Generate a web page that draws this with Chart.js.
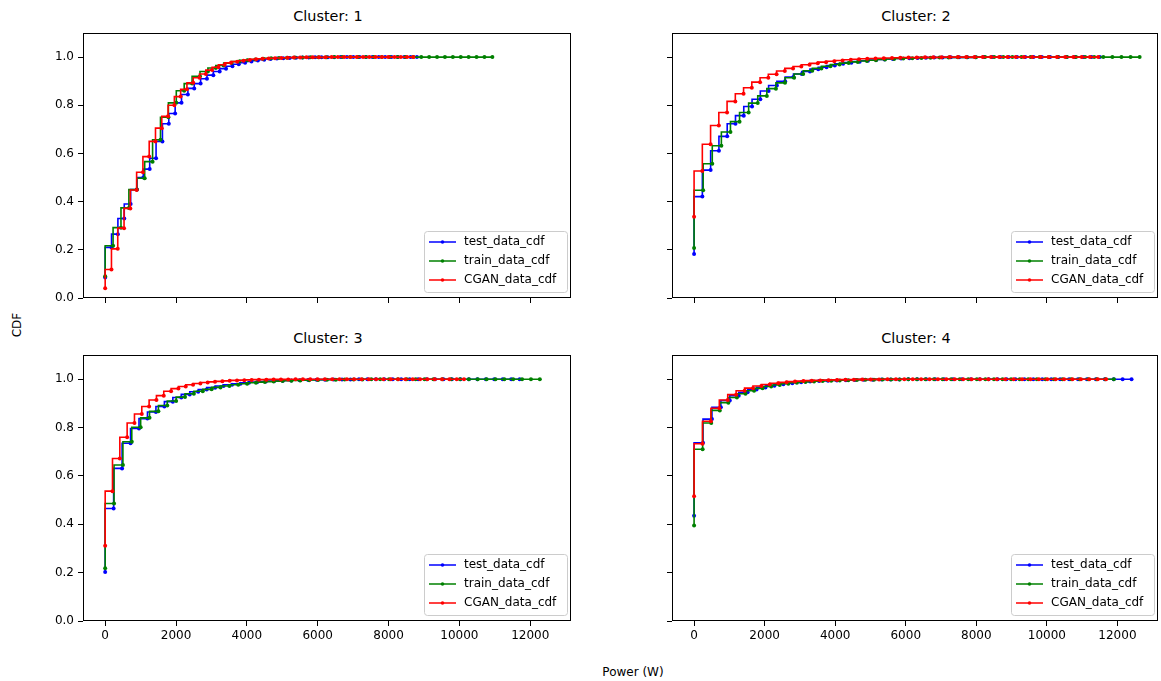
<!DOCTYPE html>
<html>
<head>
<meta charset="utf-8">
<script src="https://cdn.jsdelivr.net/npm/chart.js@4.4.0/dist/chart.umd.min.js"></script>
<style>
  body { margin: 0; background: #fff; width: 1161px; height: 681px; position: relative; overflow: hidden; font-family: "DejaVu Sans", sans-serif; color: #000; }
  canvas { position: absolute; }
  .title { position: absolute; font-size: 14.4px; height: 18px; line-height: 18px; text-align: center; white-space: nowrap; }
  .axlabel { position: absolute; font-size: 12px; white-space: nowrap; }
</style>
</head>
<body>
<div id="wrap"></div>
<div class="axlabel" id="ylab" style="left:0px; top:318px; width:34px; text-align:center; transform:rotate(-90deg);">CDF</div>
<div class="axlabel" style="left:583px; top:665px; width:100px; text-align:center;">Power (W)</div>
<script>
// series names and colours
const seriesLabels = ['test_data_cdf', 'train_data_cdf', 'CGAN_data_cdf'];
const seriesColors = ['#0000ff', '#008000', '#ff0000'];
const clusterNames = ['1', '2', '3', '4'];
const xTicks = [0, 2000, 4000, 6000, 8000, 10000, 12000];
const yTicks = [0, 0.2, 0.4, 0.6, 0.8, 1.0];

// last bin edge (W) of each series: test, train, CGAN
const c1Max = [8800, 10930, 8700];
const c2Max = [11500, 12630, 11455];
const c3Max = [11700, 12270, 10130];
const c4Max = [12400, 11900, 11680];

// Cluster 1
const c1Test = [0.085, 0.21, 0.265, 0.33, 0.39, 0.45, 0.5, 0.535, 0.58, 0.65,
  0.723, 0.766, 0.81, 0.845, 0.87, 0.89, 0.91, 0.925, 0.94, 0.952,
  0.962, 0.97, 0.977, 0.982, 0.986, 0.989, 0.992, 0.994, 0.995, 0.996,
  0.997, 0.998, 0.998, 0.999, 0.999, 0.999, 0.999, 1, 1, 1,
  1, 1, 1, 1, 1, 1, 1, 1, 1, 1];
const c1Train = [0.09, 0.217, 0.292, 0.374, 0.45, 0.497, 0.566, 0.657, 0.75, 0.81,
  0.86, 0.89, 0.92, 0.94, 0.955, 0.965, 0.975, 0.982, 0.987, 0.99,
  0.993, 0.995, 0.996, 0.997, 0.998, 0.998, 0.999, 0.999, 0.999, 1,
  1, 1, 1, 1, 1, 1, 1, 1, 1, 1,
  1, 1, 1, 1, 1, 1, 1, 1, 1, 1];
const c1Cgan = [0.04, 0.118, 0.204, 0.29, 0.372, 0.448, 0.522, 0.587, 0.65, 0.705,
  0.754, 0.8, 0.836, 0.866, 0.893, 0.914, 0.93, 0.946, 0.958, 0.968,
  0.976, 0.981, 0.985, 0.988, 0.991, 0.993, 0.994, 0.995, 0.996, 0.997,
  0.998, 0.998, 0.999, 0.999, 0.999, 0.999, 1, 1, 1, 1,
  1, 1, 1, 1, 1, 1, 1, 1, 1, 1];

// Cluster 2
const c2Test = [0.183, 0.421, 0.531, 0.611, 0.671, 0.723, 0.757, 0.795, 0.825, 0.859,
  0.882, 0.9, 0.917, 0.93, 0.94, 0.95, 0.958, 0.965, 0.972, 0.977,
  0.981, 0.985, 0.988, 0.99, 0.992, 0.994, 0.995, 0.996, 0.997, 0.998,
  0.998, 0.999, 0.999, 0.999, 0.999, 1, 1, 1, 1, 1,
  1, 1, 1, 1, 1, 1, 1, 1, 1, 1];
const c2Train = [0.208, 0.447, 0.557, 0.632, 0.689, 0.732, 0.77, 0.809, 0.839, 0.869,
  0.893, 0.914, 0.93, 0.943, 0.953, 0.962, 0.969, 0.975, 0.98, 0.984,
  0.987, 0.99, 0.992, 0.994, 0.995, 0.996, 0.997, 0.998, 0.998, 0.999,
  0.999, 0.999, 1, 1, 1, 1, 1, 1, 1, 1,
  1, 1, 1, 1, 1, 1, 1, 1, 1, 1];
const c2Cgan = [0.337, 0.527, 0.638, 0.716, 0.77, 0.816, 0.848, 0.873, 0.896, 0.914,
  0.929, 0.942, 0.953, 0.961, 0.968, 0.974, 0.979, 0.983, 0.986, 0.989,
  0.991, 0.993, 0.994, 0.995, 0.996, 0.997, 0.998, 0.998, 0.999, 0.999,
  0.999, 1, 1, 1, 1, 1, 1, 1, 1, 1,
  1, 1, 1, 1, 1, 1, 1, 1, 1, 1];

// Cluster 3
const c3Test = [0.203, 0.465, 0.631, 0.735, 0.796, 0.837, 0.864, 0.887, 0.907, 0.924,
  0.937, 0.948, 0.957, 0.965, 0.972, 0.977, 0.981, 0.985, 0.988, 0.99,
  0.992, 0.994, 0.995, 0.996, 0.997, 0.998, 0.998, 0.999, 0.999, 0.999,
  1, 1, 1, 1, 1, 1, 1, 1, 1, 1,
  1, 1, 1, 1, 1, 1, 1, 1, 1, 1];
const c3Train = [0.218, 0.486, 0.645, 0.741, 0.801, 0.84, 0.867, 0.891, 0.91, 0.926,
  0.94, 0.95, 0.958, 0.966, 0.972, 0.977, 0.981, 0.985, 0.988, 0.99,
  0.992, 0.994, 0.995, 0.996, 0.997, 0.998, 0.998, 0.999, 0.999, 0.999,
  1, 1, 1, 1, 1, 1, 1, 1, 1, 1,
  1, 1, 1, 1, 1, 1, 1, 1, 1, 1];
const c3Cgan = [0.311, 0.537, 0.672, 0.76, 0.819, 0.856, 0.887, 0.914, 0.932, 0.95,
  0.961, 0.97, 0.977, 0.982, 0.986, 0.989, 0.991, 0.993, 0.995, 0.996,
  0.997, 0.998, 0.998, 0.999, 0.999, 0.999, 1, 1, 1, 1,
  1, 1, 1, 1, 1, 1, 1, 1, 1, 1,
  1, 1, 1, 1, 1, 1, 1, 1, 1, 1];

// Cluster 4
const c4Test = [0.435, 0.737, 0.835, 0.884, 0.912, 0.932, 0.946, 0.957, 0.966, 0.973,
  0.979, 0.983, 0.987, 0.99, 0.992, 0.994, 0.995, 0.996, 0.997, 0.998,
  0.998, 0.999, 0.999, 0.999, 1, 1, 1, 1, 1, 1,
  1, 1, 1, 1, 1, 1, 1, 1, 1, 1,
  1, 1, 1, 1, 1, 1, 1, 1, 1, 1];
const c4Train = [0.395, 0.71, 0.819, 0.871, 0.903, 0.924, 0.94, 0.952, 0.962, 0.97,
  0.976, 0.981, 0.985, 0.988, 0.99, 0.992, 0.994, 0.995, 0.996, 0.997,
  0.998, 0.998, 0.999, 0.999, 0.999, 1, 1, 1, 1, 1,
  1, 1, 1, 1, 1, 1, 1, 1, 1, 1,
  1, 1, 1, 1, 1, 1, 1, 1, 1, 1];
const c4Cgan = [0.516, 0.733, 0.826, 0.88, 0.914, 0.936, 0.952, 0.963, 0.972, 0.978,
  0.983, 0.987, 0.99, 0.992, 0.994, 0.995, 0.996, 0.997, 0.998, 0.998,
  0.999, 0.999, 0.999, 1, 1, 1, 1, 1, 1, 1,
  1, 1, 1, 1, 1, 1, 1, 1, 1, 1,
  1, 1, 1, 1, 1, 1, 1, 1, 1, 1];

const clusterSeries = [
  [c1Test, c1Train, c1Cgan],
  [c2Test, c2Train, c2Cgan],
  [c3Test, c3Train, c3Cgan],
  [c4Test, c4Train, c4Cgan]
];
const clusterMax = [c1Max, c2Max, c3Max, c4Max];

// plot area boxes (px)
const panels = [
  { left: 83, top: 30, w: 490, h: 268, xLabels: false },
  { left: 672, top: 30, w: 488, h: 268, xLabels: false },
  { left: 83, top: 352, w: 490, h: 269, xLabels: true },
  { left: 672, top: 352, w: 488, h: 269, xLabels: true }
];
const Y_W = 50, X_H = 28;
const FONT = '"DejaVu Sans", sans-serif';

// cdf is evaluated on evenly spaced bin edges from 0 to the series max
function toPoints(vals, maxW) {
  const step = maxW / (vals.length - 1);
  return vals.map((v, i) => ({ x: i * step, y: v }));
}

const framePlugin = {
  id: 'frame',
  afterDatasetsDraw(chart) {
    const a = chart.chartArea, ctx = chart.ctx;
    ctx.save();
    ctx.strokeStyle = '#000';
    ctx.lineWidth = 1;
    ctx.strokeRect(Math.round(a.left) + 0.5, Math.round(a.top) + 0.5,
      Math.round(a.right - a.left) - 1, Math.round(a.bottom - a.top) - 1);
    ctx.restore();
  },
  afterDraw(chart) {
    // matplotlib-like legend, lower right inside the axes
    const a = chart.chartArea, ctx = chart.ctx;
    const w = 143, h = 61;
    const x0 = Math.round(a.right) - 4 - w, y0 = Math.round(a.bottom) - 6 - h;
    ctx.save();
    ctx.beginPath();
    ctx.roundRect(x0 + 0.5, y0 + 0.5, w, h, 3);
    ctx.fillStyle = 'rgba(255,255,255,0.8)';
    ctx.fill();
    ctx.strokeStyle = '#cccccc';
    ctx.lineWidth = 1;
    ctx.stroke();
    ctx.font = '12px ' + FONT;
    ctx.textBaseline = 'middle';
    seriesLabels.forEach((lab, i) => {
      const yy = y0 + 11 + i * 19;
      ctx.strokeStyle = seriesColors[i];
      ctx.lineWidth = 1.5;
      ctx.beginPath();
      ctx.moveTo(x0 + 5, yy);
      ctx.lineTo(x0 + 32, yy);
      ctx.stroke();
      ctx.fillStyle = seriesColors[i];
      ctx.beginPath();
      ctx.arc(x0 + 18.5, yy, 1.8, 0, Math.PI * 2);
      ctx.fill();
      ctx.fillStyle = '#000';
      ctx.fillText(lab, x0 + 40, yy);
    });
    ctx.restore();
  }
};

const wrap = document.getElementById('wrap');
panels.forEach((p, k) => {
  const cv = document.createElement('canvas');
  const cw = p.w + Y_W + 2, ch = p.h + 1 + X_H;
  cv.width = cw; cv.height = ch;
  cv.style.left = (p.left - Y_W) + 'px';
  cv.style.top = (p.top - 1) + 'px';
  cv.style.width = cw + 'px'; cv.style.height = ch + 'px';
  wrap.appendChild(cv);

  const t = document.createElement('div');
  t.className = 'title';
  t.style.left = p.left + 'px';
  t.style.width = p.w + 'px';
  t.style.top = (p.top - 23) + 'px';
  t.textContent = 'Cluster: ' + clusterNames[k];
  wrap.appendChild(t);

  const datasets = clusterSeries[k].map((vals, i) => ({
    label: seriesLabels[i],
    data: toPoints(vals, clusterMax[k][i]),
    borderColor: seriesColors[i],
    backgroundColor: seriesColors[i],
    pointBackgroundColor: seriesColors[i],
    pointBorderWidth: 0,
    pointRadius: 2,
    borderWidth: 1.6,
    stepped: 'after',
    fill: false,
    order: 3 - i
  }));

  new Chart(cv.getContext('2d'), {
    type: 'line',
    data: { datasets },
    options: {
      responsive: false,
      animation: false,
      events: [],
      layout: { padding: { top: 1, right: 2, left: 0, bottom: 0 } },
      plugins: { legend: { display: false }, tooltip: { enabled: false }, title: { display: false } },
      scales: {
        x: {
          type: 'linear', min: -626, max: 13150,
          afterBuildTicks: s => { s.ticks = xTicks.map(v => ({ value: v })); },
          afterFit: s => { s.height = X_H; s.paddingLeft = 0; s.paddingRight = 0; },
          grid: { drawOnChartArea: false, drawTicks: true, tickLength: 5, color: '#000' },
          border: { display: false },
          ticks: { display: p.xLabels, color: '#000', font: { family: FONT, size: 12 }, padding: 3, maxRotation: 0, callback: v => String(v) }
        },
        y: {
          type: 'linear', min: 0, max: 1.1,
          afterBuildTicks: s => { s.ticks = yTicks.map(v => ({ value: v })); },
          afterFit: s => { s.width = Y_W; s.paddingTop = 0; s.paddingBottom = 0; },
          grid: { drawOnChartArea: false, drawTicks: true, tickLength: 5, color: '#000' },
          border: { display: false },
          ticks: { display: k % 2 === 0, color: '#000', font: { family: FONT, size: 12 }, padding: 4, callback: v => v.toFixed(1) }
        }
      }
    },
    plugins: [framePlugin]
  });
});
</script>
</body>
</html>
